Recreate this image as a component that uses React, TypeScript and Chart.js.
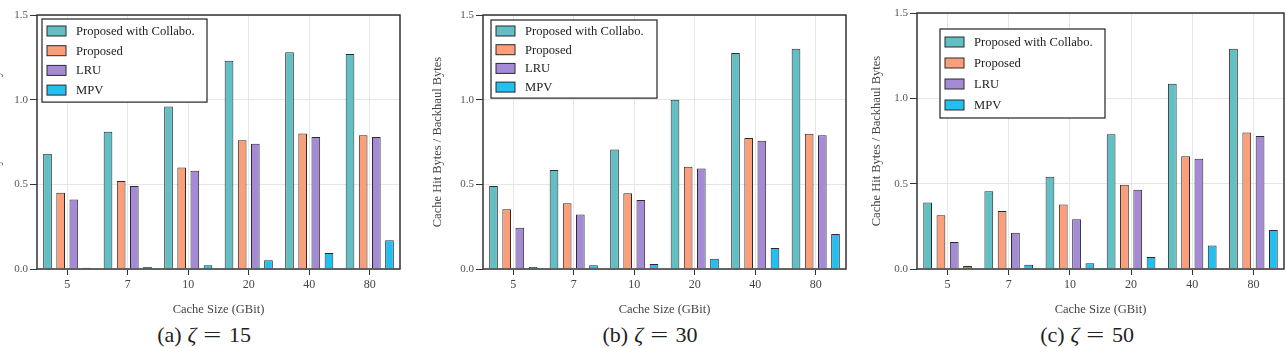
import React, { useEffect, useRef } from "react";
import { Chart, registerables } from "chart.js";

Chart.register(...registerables);

// Cache sizes on the x axis (GBit)
const cacheSizes = ["5", "7", "10", "20", "40", "80"];
const seriesNames = ["Proposed with Collabo.", "Proposed", "LRU", "MPV"];
const seriesColors = ["#62c0c4", "#fb9f7a", "#a58ad6", "#22bff0"];
const yTicks = [0, 0.5, 1.0, 1.5];

// ζ = 15
const collabo15 = [0.68, 0.81, 0.96, 1.23, 1.28, 1.27];
const proposed15 = [0.45, 0.52, 0.6, 0.76, 0.8, 0.79];
const lru15 = [0.41, 0.49, 0.58, 0.74, 0.78, 0.78];
const mpv15 = [0.008, 0.012, 0.022, 0.051, 0.094, 0.17];

// ζ = 30
const collabo30 = [0.49, 0.585, 0.705, 1.0, 1.275, 1.3];
const proposed30 = [0.353, 0.388, 0.447, 0.604, 0.773, 0.798];
const lru30 = [0.243, 0.322, 0.408, 0.594, 0.757, 0.79];
const mpv30 = [0.012, 0.022, 0.03, 0.061, 0.124, 0.206];

// ζ = 50
const collabo50 = [0.39, 0.456, 0.54, 0.79, 1.086, 1.29];
const proposed50 = [0.315, 0.34, 0.378, 0.493, 0.661, 0.8];
const lru50 = [0.158, 0.213, 0.292, 0.464, 0.646, 0.78];
const mpv50 = [0.018, 0.025, 0.033, 0.07, 0.137, 0.229];

const SERIF = "'Liberation Serif', 'DejaVu Serif', serif";

type LegendCfg = { dx: number; dy: number; w: number; first: number; gap: number };

// Boxed legend drawn inside the plot area, plus a dark frame around the plot
const frameAndLegend = {
  id: "frameAndLegend",
  afterDraw(chart: any) {
    const { ctx, chartArea } = chart;
    const cfg: LegendCfg = chart.options.plugins.frameAndLegend;
    ctx.save();
    // frame
    ctx.strokeStyle = "#333";
    ctx.lineWidth = 1.5;
    ctx.strokeRect(chartArea.left, chartArea.top, chartArea.right - chartArea.left, chartArea.bottom - chartArea.top);
    // legend box
    const n = chart.data.datasets.length;
    const x0 = chartArea.left + cfg.dx;
    const y0 = chartArea.top + cfg.dy;
    const h = cfg.first * 2 + cfg.gap * (n - 1);
    ctx.fillStyle = "#fff";
    ctx.fillRect(x0, y0, cfg.w, h);
    ctx.strokeStyle = "#222";
    ctx.lineWidth = 1.2;
    ctx.strokeRect(x0, y0, cfg.w, h);
    ctx.font = `12.6px ${SERIF}`;
    ctx.textBaseline = "middle";
    chart.data.datasets.forEach((ds: any, i: number) => {
      const cy = y0 + cfg.first + i * cfg.gap;
      ctx.fillStyle = ds.backgroundColor;
      ctx.fillRect(x0 + 5, cy - 5, 19, 10);
      ctx.strokeStyle = "#2b2b2b";
      ctx.lineWidth = 1;
      ctx.strokeRect(x0 + 5, cy - 5, 19, 10);
      ctx.fillStyle = "#222";
      ctx.fillText(ds.label, x0 + 34, cy + 0.5);
    });
    ctx.restore();
  },
};

type PanelProps = {
  series: number[][];
  left: number;
  width: number;
  yWidth: number;
  padTop: number;
  padRight: number;
  yTitlePad: number;
  legend: LegendCfg;
  tag: string;
  zeta: string;
  captionX: number;
};

function Panel(p: PanelProps) {
  const ref = useRef<HTMLCanvasElement>(null);
  useEffect(() => {
    if (!ref.current) return;
    const chart = new Chart(ref.current, {
      type: "bar",
      data: {
        labels: cacheSizes,
        datasets: p.series.map((values, i) => ({
          label: seriesNames[i],
          data: values,
          backgroundColor: seriesColors[i],
          borderColor: "#2b2b2b",
          borderWidth: 1,
          barPercentage: 0.66,
          categoryPercentage: 0.87,
        })),
      },
      options: {
        animation: false,
        responsive: false,
        maintainAspectRatio: false,
        layout: { padding: { top: p.padTop, right: p.padRight, left: 0, bottom: 0 } },
        plugins: {
          legend: { display: false },
          tooltip: { enabled: false },
          frameAndLegend: p.legend,
        } as any,
        scales: {
          x: {
            grid: { offset: false, color: "#e6e6e6", tickColor: "#333", tickLength: 6, lineWidth: 1 },
            border: { display: false },
            ticks: { color: "#444", font: { family: SERIF, size: 12 }, padding: 3 },
            title: {
              display: true,
              text: "Cache Size (GBit)",
              color: "#444",
              font: { family: SERIF, size: 12.5 },
              padding: { top: 0, bottom: 2.5 },
            },
            afterFit: (s: any) => {
              s.height = 51;
            },
          },
          y: {
            min: 0,
            max: 1.5,
            afterBuildTicks: (s: any) => {
              s.ticks = yTicks.map((v) => ({ value: v }));
            },
            grid: { color: "#e6e6e6", tickColor: "#333", tickLength: 7 },
            border: { display: false },
            ticks: {
              color: "#555",
              font: { family: SERIF, size: 11 },
              padding: 2,
              callback: (v: any) => Number(v).toFixed(1),
            },
            title: {
              display: true,
              text: "Cache Hit Bytes / Backhaul Bytes",
              color: "#444",
              font: { family: SERIF, size: 12.5 },
              padding: { top: p.yTitlePad, bottom: 0 },
            },
            afterFit: (s: any) => {
              s.width = p.yWidth;
            },
          },
        },
      },
      plugins: [frameAndLegend],
    });
    return () => chart.destroy();
  }, []);
  return (
    <>
      <canvas
        ref={ref}
        width={p.width}
        height={320}
        style={{ position: "absolute", left: p.left, top: 0, width: p.width, height: 320 }}
      />
      <div
        style={{
          position: "absolute",
          left: p.captionX - 100,
          top: 322,
          width: 200,
          textAlign: "center",
          fontFamily: SERIF,
          fontSize: 22,
          lineHeight: "26px",
          color: "#222",
          whiteSpace: "nowrap",
        }}
      >
        ({p.tag})<span style={{ marginLeft: 6 }}><i>ζ</i></span>
        <span style={{ margin: "0 10px", display: "inline-block", transform: "scaleX(1.45)" }}>=</span>
        {p.zeta}
      </div>
    </>
  );
}

export default function App() {
  return (
    <div
      style={{
        position: "fixed",
        left: 0,
        top: 0,
        width: 1287,
        height: 348,
        overflow: "hidden",
        background: "#fff",
      }}
    >
      <Panel
        series={[collabo15, proposed15, lru15, mpv15]}
        left={-14}
        width={424}
        yWidth={51}
        padTop={15}
        padRight={10}
        yTitlePad={3}
        legend={{ dx: 5, dy: 4, w: 165, first: 12, gap: 19.7 }}
        tag="a"
        zeta="15"
        captionX={204}
      />
      <Panel
        series={[collabo30, proposed30, lru30, mpv30]}
        left={430}
        width={426}
        yWidth={53}
        padTop={15}
        padRight={10}
        yTitlePad={0}
        legend={{ dx: 8, dy: 5, w: 166, first: 11, gap: 18.7 }}
        tag="b"
        zeta="30"
        captionX={650}
      />
      <Panel
        series={[collabo50, proposed50, lru50, mpv50]}
        left={860}
        width={427}
        yWidth={57}
        padTop={13}
        padRight={3}
        yTitlePad={9}
        legend={{ dx: 23, dy: 16, w: 165, first: 13, gap: 21 }}
        tag="c"
        zeta="50"
        captionX={1087}
      />
    </div>
  );
}
